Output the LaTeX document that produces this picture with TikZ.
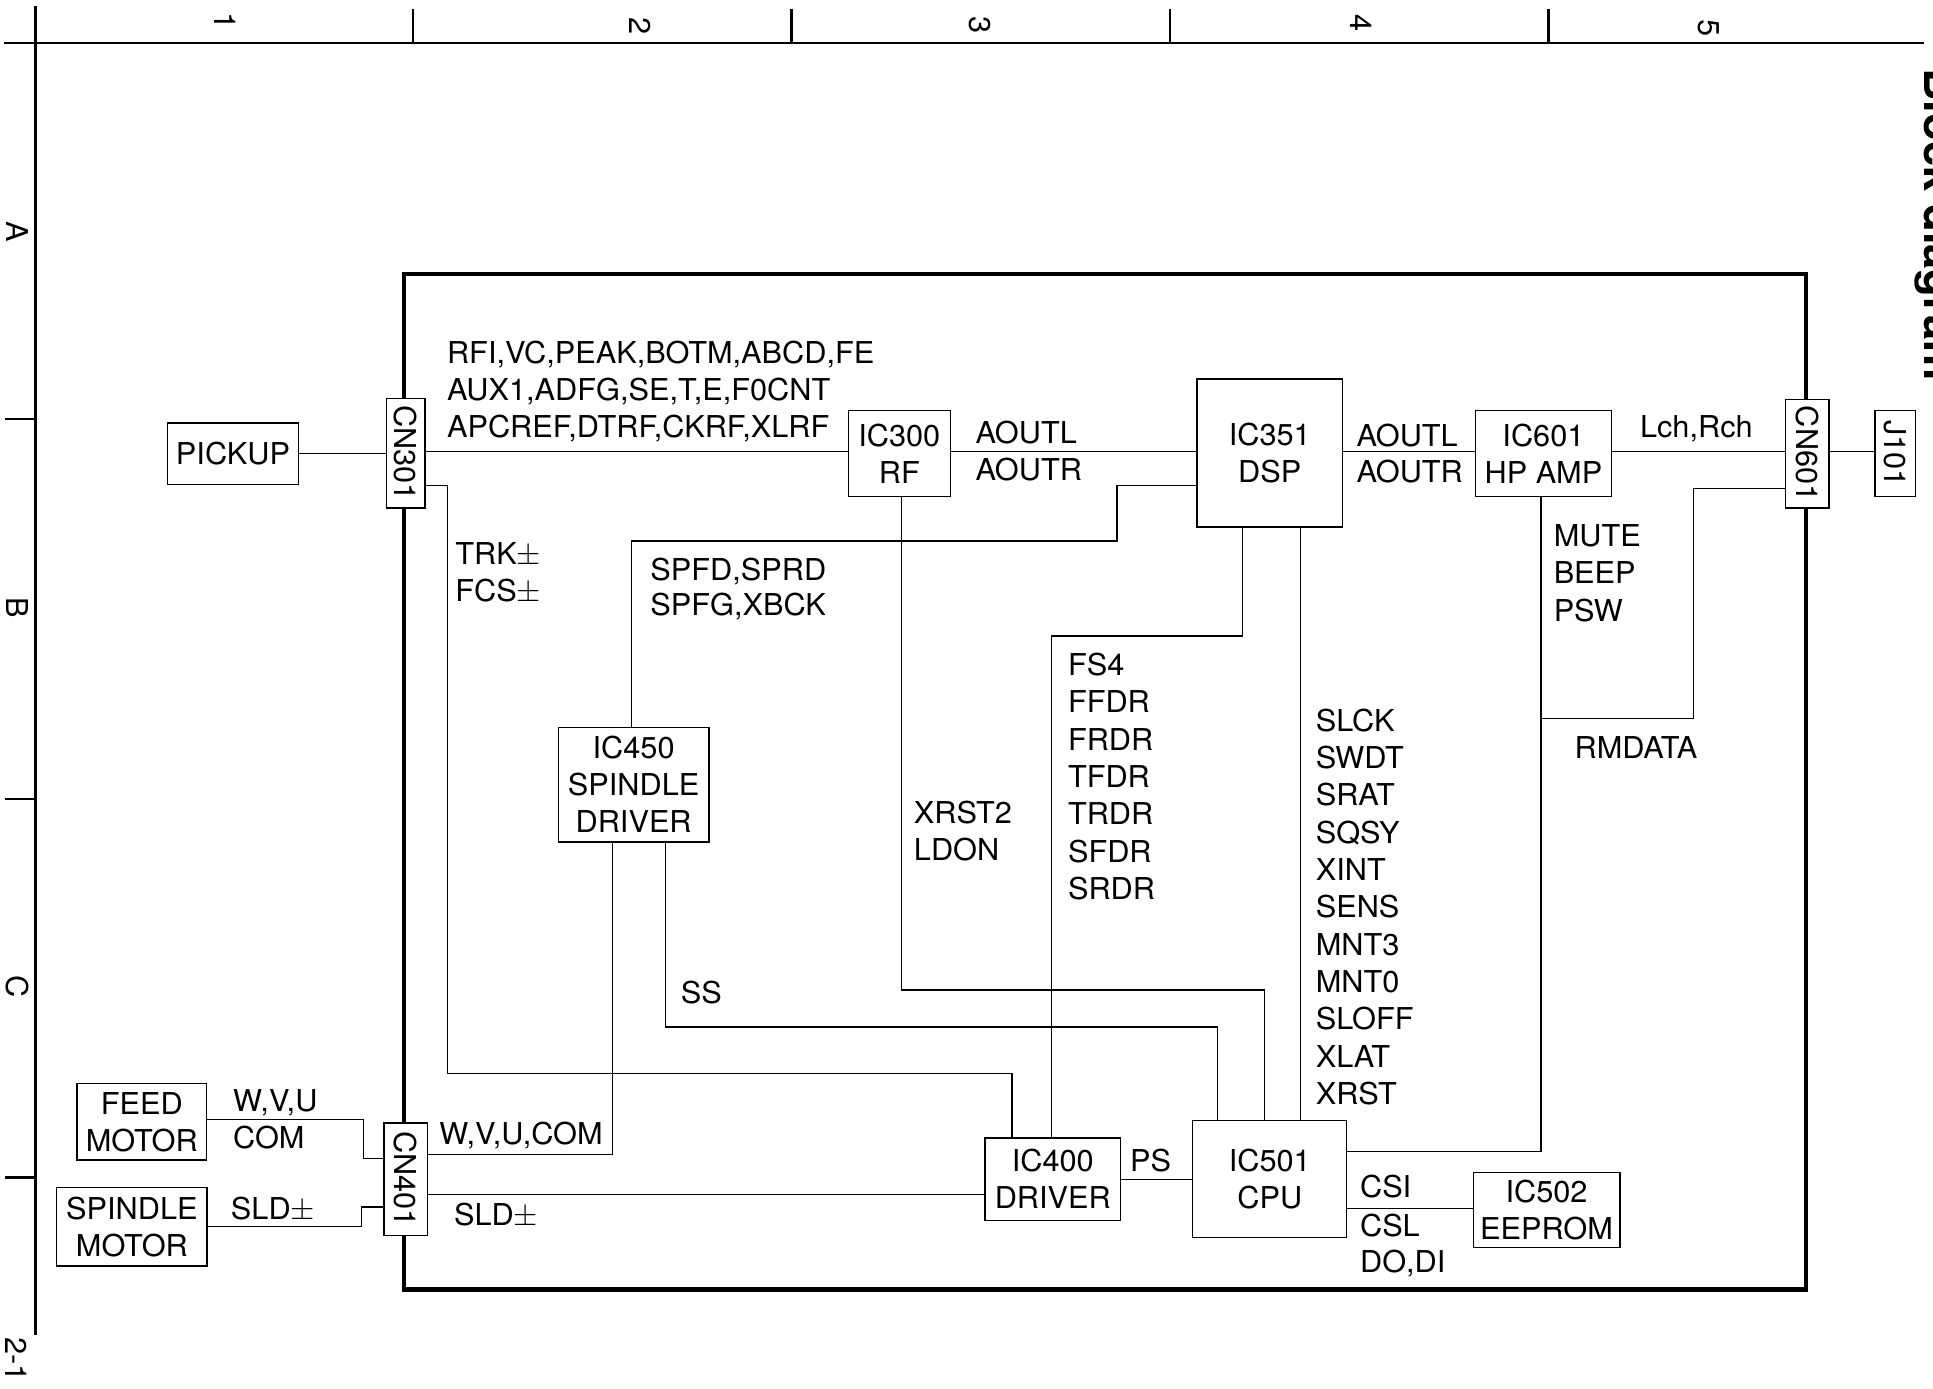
\documentclass[tikz,border=0pt]{standalone}
\usepackage{fontspec}
\setmainfont{TeX Gyre Heros}[FakeStretch=1.02]
\usepackage{graphicx}
\begin{document}
\begin{tikzpicture}[x=0.02cm,y=-0.02cm,
  every node/.style={inner sep=0pt, font=\fontsize{13.9}{17.07}\selectfont},
  bx/.style 2 args={draw, line width=0.6pt, fill=white, minimum width=#1*0.02cm, minimum height=#2*0.02cm, align=center},
  wire/.style={line width=0.6pt},
  guide/.style={line width=1.2pt},
  frame/.style={line width=1.9pt},
  lab/.style={anchor=base west},
  rot/.style={rotate=-90}
]
\useasboundingbox (0,0) rectangle (1568,1126);
% page guides
\draw[guide] (3,35) -- (1561,35);
\draw[guide] (29,5) -- (29,1083);
\foreach \x in {335,642,949,1256} \draw[guide] (\x,7) -- (\x,35);
\foreach \y in {340,648,955} \draw[guide] (4,\y) -- (29,\y);
\node[rot] (col1) at (183,17) {1};
\node[rot] (col2) at (519,21) {2};
\node[rot] (col3) at (795,20) {3};
\node[rot] (col4) at (1104,19) {4};
\node[rot] (col5) at (1386,23) {5};
\node[rot] (rowA) at (14,188) {A};
\node[rot] (rowB) at (14,493) {B};
\node[rot] (rowC) at (14,800) {C};
\node[rot] (page) at (13,1103) {2-1};
\node[rot, anchor=base west, font=\fontsize{20.5}{24}\selectfont\bfseries] (title) at (1561,55) {Block diagram};
% frame
\draw[frame] (327.4,222) rectangle (1465.2,1046);
% blocks
\node[bx={106}{50}] (pickup) at (189,368) {PICKUP};
\node[bx={31.5}{89}] (cn301) at (329,367.5) {\rotatebox{-90}{CN301}};
\node[bx={83}{70}] (ic300) at (729.5,368) {IC300\\RF};
\node[bx={118}{120}] (ic351) at (1030,367.5) {IC351\\DSP};
\node[bx={110}{70}] (ic601) at (1252,368) {IC601\\HP AMP};
\node[bx={35}{88}] (cn601) at (1466,368) {\rotatebox{-90}{CN601}};
\node[bx={33}{70}] (j101) at (1537.5,368) {\rotatebox{-90}{J101}};
\node[bx={122}{93}] (ic450) at (514,636.5) {IC450\\SPINDLE\\DRIVER};
\node[bx={110}{67}] (ic400) at (854,956.5) {IC400\\DRIVER};
\node[bx={125}{95}] (ic501) at (1030,956.5) {IC501\\CPU};
\node[bx={119}{61}] (ic502) at (1254.5,981.5) {IC502\\EEPROM};
\node[bx={35}{91}] (cn401) at (329,956.5) {\rotatebox{-90}{CN401}};
\node[bx={105}{62}] (feed) at (115,910) {FEED\\MOTOR};
\node[bx={122}{64}] (spm) at (107,995) {SPINDLE\\MOTOR};
% wires
\draw[wire] (pickup.east) -- (cn301.west |- pickup.east);
\draw[wire] (cn301.east |- 0,366) -- (ic300.west |- 0,366);
\draw[wire] (ic300.east |- 0,366) -- (ic351.west |- 0,366);
\draw[wire] (ic351.east |- 0,366) -- (ic601.west |- 0,366);
\draw[wire] (ic601.east |- 0,366) -- (cn601.west |- 0,366);
\draw[wire] (cn601.east |- 0,366) -- (j101.west |- 0,366);
\draw[wire] (cn601.west |- 0,396) -| (1373.5,583) -- (1250,583);
\draw[wire] (ic601.south -| 1250,0) |- (ic501.east |- 0,934);
\draw[wire] (cn301.east |- 0,394) -| (362.8,871) -| (ic400.north -| 821,0);
\draw[wire] (ic351.west |- 0,394) -| (906,438.8) -| (ic450.north -| 512.4,0);
\draw[wire] (ic351.south -| 1007.6,0) |- (852.7,516) -- (ic400.north -| 852.7,0);
\draw[wire] (ic351.south -| 1055,0) -- (ic501.north -| 1055,0);
\draw[wire] (ic300.south -| 731,0) |- (1025.8,803) -- (ic501.north -| 1025.8,0);
\draw[wire] (ic450.south -| 540,0) |- (987.4,833) -- (ic501.north -| 987.4,0);
\draw[wire] (ic450.south -| 497,0) |- (cn401.east |- 0,936.3);
\draw[wire] (cn401.east |- 0,969) -- (ic400.west |- 0,969);
\draw[wire] (ic400.east |- 0,957) -- (ic501.west |- 0,957);
\draw[wire] (ic501.east |- 0,980.4) -- (ic502.west |- 0,980.4);
\draw[wire] (feed.east |- 0,908) -| (294.6,940) -- (cn401.west |- 0,940);
\draw[wire] (spm.east |- 0,995) -| (293.4,979) -- (cn401.west |- 0,979);
% labels
\node[lab] (l1) at (362.3,294.7) {RFI,VC,PEAK,BOTM,ABCD,FE};
\node[lab] (l2) at (362.3,324.5) {AUX1,ADFG,SE,T,E,F0CNT};
\node[lab] (l3) at (362.3,354.7) {APCREF,DTRF,CKRF,XLRF};
\node[lab] (l4) at (791,360) {AOUTL};
\node[lab] (l5) at (791,390) {AOUTR};
\node[lab] (l6) at (1100,362) {AOUTL};
\node[lab] (l7) at (1100,391.5) {AOUTR};
\node[lab] (l8) at (1330,354.6) {Lch,Rch};
\node[lab] (l9) at (369,458.3) {TRK$\pm$};
\node[lab] (l10) at (369,488) {FCS$\pm$};
\node[lab] (l11) at (527.3,470.5) {SPFD,SPRD};
\node[lab] (l12) at (527.3,499.4) {SPFG,XBCK};
\node[lab] (l13) at (1260,443) {MUTE};
\node[lab] (l14) at (1260,473.7) {BEEP};
\node[lab] (l15) at (1260,504) {PSW};
\foreach \t [count=\i from 0] in {FS4,FFDR,FRDR,TFDR,TRDR,SFDR,SRDR}
  \node[lab] (fs\i) at (866,{548+30.3*\i}) {\t};
\foreach \t [count=\i from 0] in {SLCK,SWDT,SRAT,SQSY,XINT,SENS,MNT3,MNT0,SLOFF,XLAT,XRST}
  \node[lab] (sl\i) at (1067,{593+30.3*\i}) {\t};
\node[lab] (l16) at (741,668) {XRST2};
\node[lab] (l17) at (741,698) {LDON};
\node[lab] (l18) at (552,814) {SS};
\node[lab] (l19) at (1277,615) {RMDATA};
\node[lab] (l20) at (356,928) {W,V,U,COM};
\node[lab] (l21) at (368,994) {SLD$\pm$};
\node[lab] (l22) at (188.8,901.7) {W,V,U};
\node[lab] (l23) at (188.8,931.5) {COM};
\node[lab] (l24) at (187,989.6) {SLD$\pm$};
\node[lab] (l25) at (916.4,950.4) {PS};
\node[lab] (l26) at (1102.9,971.5) {CSI};
\node[lab] (l27) at (1102.9,1003) {CSL};
\node[lab] (l28) at (1102.9,1032.4) {DO,DI};
\end{tikzpicture}
\end{document}
